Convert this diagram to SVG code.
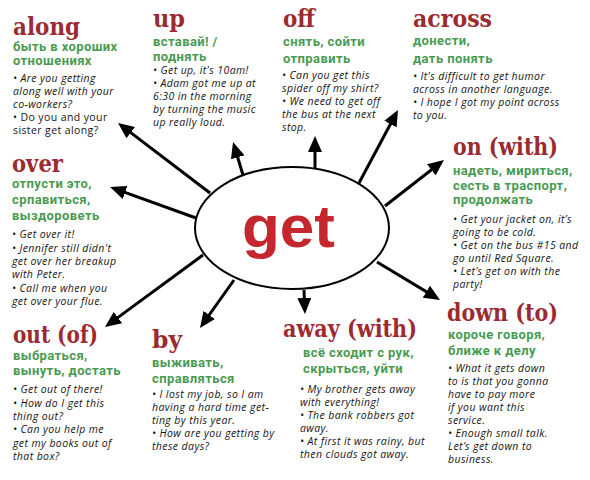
<svg xmlns="http://www.w3.org/2000/svg" width="590" height="480" viewBox="0 0 590 480">
<style>
.t{font-family:"DejaVu Serif",serif;font-weight:bold;font-size:24px;fill:#9c2a32}
.g{font-family:Roboto,"DejaVu Sans",sans-serif;font-weight:bold;font-size:13px;letter-spacing:0.4px;fill:#4a9a52}
.e{font-family:"Open Sans",sans-serif;font-style:italic;font-size:10.5px;letter-spacing:0.4px;fill:#151515}
.u{font-style:normal}
.c line{stroke:#000;stroke-width:3;marker-end:url(#ah)}
</style>
<defs>
<marker id="ah" markerUnits="userSpaceOnUse" markerWidth="16" markerHeight="14" refX="12" refY="7" orient="auto" viewBox="0 0 16 14">
<path d="M0,0 L16,7 L0,14 z" fill="#000"/>
</marker>
</defs>
<rect width="590" height="480" fill="#fff"/>
<g id="connectors" class="c">
<line x1="210" y1="193" x2="121.2" y2="125.4"/>
<line x1="243" y1="175" x2="234.2" y2="145.8"/>
<line x1="315" y1="168" x2="315" y2="140"/>
<line x1="359" y1="183" x2="396.1" y2="113.5"/>
<line x1="385" y1="206" x2="440.8" y2="162.5"/>
<line x1="196" y1="218" x2="113.8" y2="188.4"/>
<line x1="203" y1="255" x2="108.2" y2="324.6"/>
<line x1="234" y1="280" x2="202.3" y2="324.7"/>
<line x1="304" y1="290" x2="304.8" y2="310"/>
<line x1="377" y1="262" x2="436.6" y2="297.9"/>
</g>
<g id="get">
<ellipse cx="292" cy="228" rx="97" ry="61" fill="#fff" stroke="#000" stroke-width="2"/>
<text x="242" y="247" font-family="Liberation Sans,Arial,sans-serif" font-weight="bold" font-size="60" fill="#c4282e" textLength="93" lengthAdjust="spacingAndGlyphs">get</text>
</g>
<g id="along">
<text class="t" x="13" y="35" textLength="67" lengthAdjust="spacingAndGlyphs">along</text>
<text class="g"><tspan x="13" y="51">быть в хороших</tspan><tspan x="13" y="65">отношениях</tspan></text>
<text class="e"><tspan x="13" y="82">• Are you getting</tspan><tspan x="13" y="95">along well with your</tspan><tspan x="13" y="108">co-workers?</tspan><tspan class="u" x="13" y="121">• Do you and your</tspan><tspan class="u" x="13" y="134">sister get along?</tspan></text>
</g>
<g id="up">
<text class="t" x="153" y="27" textLength="32" lengthAdjust="spacingAndGlyphs">up</text>
<text class="g"><tspan x="153" y="46">вставай! /</tspan><tspan x="153" y="61">поднять</tspan></text>
<text class="e"><tspan x="153" y="74">• Get up, it's 10am!</tspan><tspan x="153" y="87">• Adam got me up at</tspan><tspan x="153" y="100">6:30 in the morning</tspan><tspan x="153" y="113">by turning the music</tspan><tspan x="153" y="126">up really loud.</tspan></text>
</g>
<g id="off">
<text class="t" x="283" y="27" textLength="32" lengthAdjust="spacingAndGlyphs">off</text>
<text class="g"><tspan x="283" y="46">снять, сойти</tspan><tspan x="283" y="63">отправить</tspan></text>
<text class="e"><tspan x="282" y="79">• Can you get this</tspan><tspan x="282" y="92">spider off my shirt?</tspan><tspan x="282" y="105">• We need to get off</tspan><tspan x="282" y="118">the bus at the next</tspan><tspan x="282" y="131">stop.</tspan></text>
</g>
<g id="across">
<text class="t" x="413" y="27" textLength="79" lengthAdjust="spacingAndGlyphs">across</text>
<text class="g"><tspan x="413" y="45">донести,</tspan><tspan x="413" y="63">дать понять</tspan></text>
<text class="e"><tspan x="413" y="80">• It's difficult to get humor</tspan><tspan x="413" y="93">across in another language.</tspan><tspan x="413" y="106">• I hope I got my point across</tspan><tspan x="413" y="119">to you.</tspan></text>
</g>
<g id="over">
<text class="t" x="12" y="172" textLength="51" lengthAdjust="spacingAndGlyphs">over</text>
<text class="g"><tspan x="12" y="188">отпусти это,</tspan><tspan x="12" y="204">српавиться,</tspan><tspan x="12" y="220">выздороветь</tspan></text>
<text class="e"><tspan x="12" y="238">• Get over it!</tspan><tspan x="12" y="252">• Jennifer still didn't</tspan><tspan x="12" y="265">get over her breakup</tspan><tspan x="12" y="278">with Peter.</tspan><tspan x="12" y="292">• Call me when you</tspan><tspan x="12" y="305">get over your flue.</tspan></text>
</g>
<g id="on-with">
<text class="t" x="453" y="155" textLength="105" lengthAdjust="spacingAndGlyphs">on (with)</text>
<text class="g"><tspan x="453" y="175">надеть, мириться,</tspan><tspan x="453" y="190">сесть в траспорт,</tspan><tspan x="453" y="204">продолжать</tspan></text>
<text class="e"><tspan x="453" y="223">• Get your jacket on, it’s</tspan><tspan x="453" y="236">going to be cold.</tspan><tspan x="453" y="249">• Get on the bus #15 and</tspan><tspan x="453" y="262">go until Red Square.</tspan><tspan x="453" y="275">• Let’s get on with the</tspan><tspan x="453" y="288">party!</tspan></text>
</g>
<g id="out-of">
<text class="t" x="13" y="343" textLength="85" lengthAdjust="spacingAndGlyphs">out (of)</text>
<text class="g"><tspan x="13" y="360">выбраться,</tspan><tspan x="13" y="375">вынуть, достать</tspan></text>
<text class="e"><tspan x="13" y="393">• Get out of there!</tspan><tspan x="13" y="407">• How do I get this</tspan><tspan x="13" y="420">thing out?</tspan><tspan x="13" y="433">• Can you help me</tspan><tspan x="13" y="447">get my books out of</tspan><tspan x="13" y="460">that box?</tspan></text>
</g>
<g id="by">
<text class="t" x="152" y="348" textLength="30" lengthAdjust="spacingAndGlyphs">by</text>
<text class="g"><tspan x="152" y="367">выживать,</tspan><tspan x="152" y="383">справляться</tspan></text>
<text class="e"><tspan x="152" y="398">• I lost my job, so I am</tspan><tspan x="152" y="411">having a hard time get-</tspan><tspan x="152" y="424">ting by this year.</tspan><tspan x="152" y="437">• How are you getting by</tspan><tspan x="152" y="450">these days?</tspan></text>
</g>
<g id="away-with">
<text class="t" x="283" y="337" textLength="134" lengthAdjust="spacingAndGlyphs">away (with)</text>
<text class="g"><tspan x="303" y="357">всё сходит с рук,</tspan><tspan x="303" y="373">скрыться, уйти</tspan></text>
<text class="e"><tspan x="300" y="393">• My brother gets away</tspan><tspan x="300" y="406">with everything!</tspan><tspan x="300" y="419">• The bank robbers got</tspan><tspan x="300" y="432">away.</tspan><tspan x="300" y="445">• At first it was rainy, but</tspan><tspan x="300" y="458">then clouds got away.</tspan></text>
</g>
<g id="down-to">
<text class="t" x="447" y="321" textLength="111" lengthAdjust="spacingAndGlyphs">down (to)</text>
<text class="g"><tspan x="448" y="339">короче говоря,</tspan><tspan x="448" y="355">ближе к делу</tspan></text>
<text class="e"><tspan x="448" y="372">• What it gets down</tspan><tspan x="448" y="385">to is that you gonna</tspan><tspan x="448" y="398">have to pay more</tspan><tspan x="448" y="411">if you want this</tspan><tspan x="448" y="424">service.</tspan><tspan x="448" y="437">• Enough small talk.</tspan><tspan x="448" y="450">Let’s get down to</tspan><tspan x="448" y="463">business.</tspan></text>
</g>
</svg>
